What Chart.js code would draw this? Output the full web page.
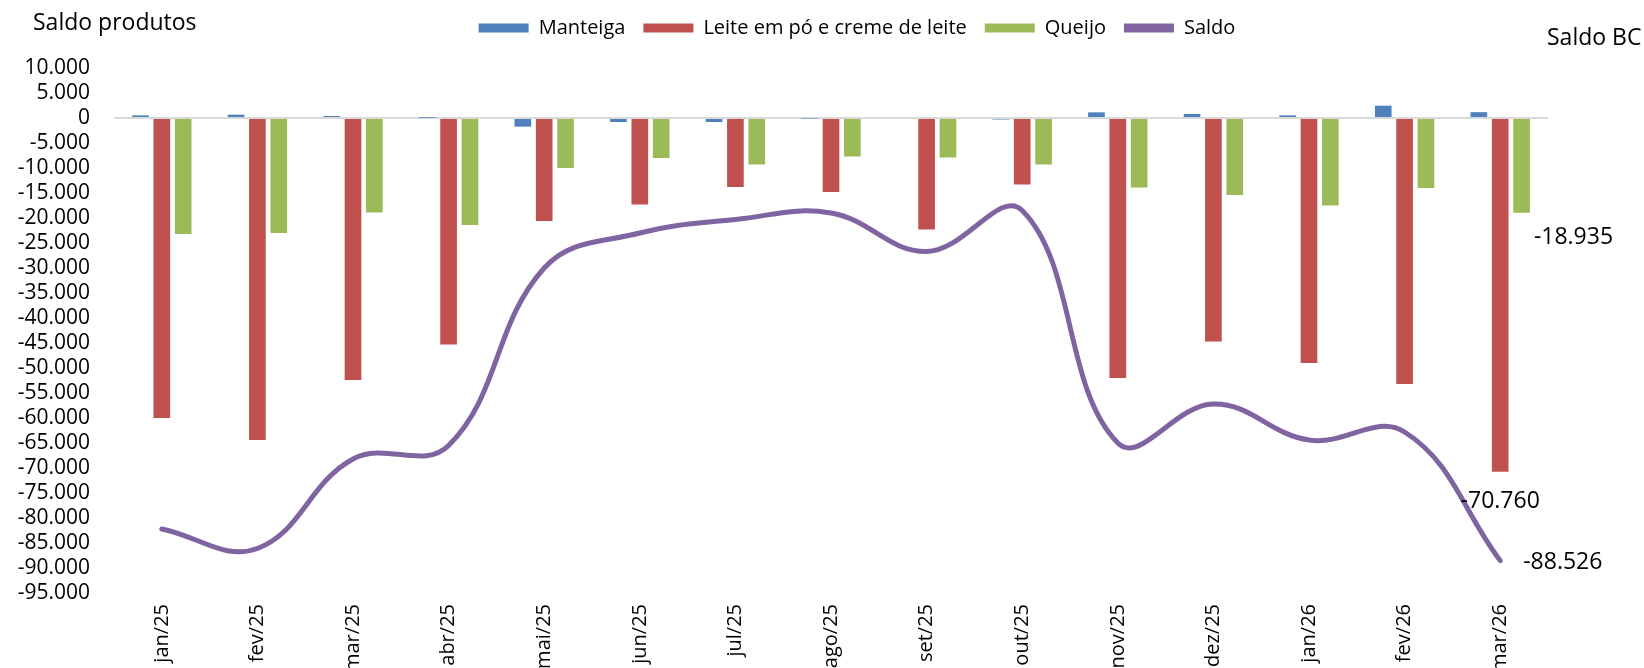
<!DOCTYPE html>
<html>
<head>
<meta charset="utf-8">
<script src="https://cdn.jsdelivr.net/npm/chart.js@4.4.1/dist/chart.umd.min.js"></script>
<style>
  html, body { margin: 0; padding: 0; background: #fff; }
  canvas { display: block; }
</style>
</head>
<body>
<canvas id="saldoChart" width="1644" height="668"></canvas>
<script>
// categorias (meses)
const meses = ['jan/25', 'fev/25', 'mar/25', 'abr/25', 'mai/25', 'jun/25', 'jul/25', 'ago/25',
               'set/25', 'out/25', 'nov/25', 'dez/25', 'jan/26', 'fev/26', 'mar/26'];

// series
const manteiga = [530, 670, 400, 50, -1730, -800, -800, -100, 0, -300, 1130, 800, 530, 2470, 1169];
const leite = [-60000, -64400, -52400, -45300, -20600, -17300, -13800, -14800, -22300, -13300,
               -52000, -44700, -49000, -53200, -70760];
const queijo = [-23200, -23000, -18900, -21400, -10000, -8000, -9300, -7700, -7900, -9300,
                -13900, -15400, -17500, -14000, -18935];
const saldo = [-82200, -86100, -68200, -65500, -30000, -23000, -20300, -19000, -26700, -18500,
               -65000, -57200, -64400, -62800, -88526];

// eixo
const yMin = -95000;
const yMax = 10000;
const yStep = 5000;

const FONT = '"Open Sans", "Noto Sans", sans-serif';

// 12345 -> 12.345
function fmt(v) {
  const s = Math.abs(v).toString().replace(/\B(?=(\d{3})+(?!\d))/g, '.');
  return (v < 0 ? '-' : '') + s;
}

// extra space below the legend, and nudge it a bit to the right
const legendGap = {
  id: 'legendGap',
  afterInit(chart) {
    if (!chart.legend) return;
    const fit = chart.legend.fit;
    chart.legend.fit = function() {
      fit.call(this);
      this.height += 20;
    };
  },
  afterLayout(chart) {
    if (!chart.legend) return;
    chart.legend.left += 35;
    chart.legend.right += 35;
  }
};

// axis titles and the last-month value labels
const extraText = {
  id: 'extraText',
  afterDatasetsDraw(chart) {
    const ctx = chart.ctx;
    const last = meses.length - 1;
    ctx.save();
    ctx.fillStyle = '#000';
    ctx.textBaseline = 'middle';
    ctx.font = '23px ' + FONT;

    ctx.textAlign = 'left';
    ctx.fillText('Saldo produtos', 33, 23);
    ctx.fillText('Saldo BC', 1547, 38);

    // Queijo
    const bq = chart.getDatasetMeta(2).data[last];
    ctx.textAlign = 'left';
    ctx.fillText(fmt(queijo[last]), bq.x + bq.width / 2 + 4, bq.y + 25);

    // Leite
    const bl = chart.getDatasetMeta(1).data[last];
    ctx.textAlign = 'center';
    ctx.fillText(fmt(leite[last]), bl.x, bl.y + 30);

    // Saldo
    const ps = chart.getDatasetMeta(3).data[last];
    ctx.textAlign = 'left';
    ctx.fillText(fmt(saldo[last]), ps.x + 23, ps.y + 2);
    ctx.restore();
  }
};

const ctx = document.getElementById('saldoChart').getContext('2d');
new Chart(ctx, {
  type: 'bar',
  data: {
    labels: meses,
    datasets: [
      { label: 'Manteiga', data: manteiga, backgroundColor: '#4F81BD', yAxisID: 'y' },
      { label: 'Leite em pó e creme de leite', data: leite, backgroundColor: '#C0504D', yAxisID: 'y' },
      { label: 'Queijo', data: queijo, backgroundColor: '#9BBB59', yAxisID: 'y' },
      {
        type: 'line',
        label: 'Saldo',
        data: saldo,
        borderColor: '#8064A2',
        backgroundColor: '#8064A2',
        borderWidth: 5,
        borderCapStyle: 'round',
        tension: 0.4,
        pointRadius: 0,
        fill: false,
        yAxisID: 'y2'
      }
    ]
  },
  options: {
    responsive: false,
    devicePixelRatio: 1,
    animation: false,
    categoryPercentage: 0.67,
    barPercentage: 0.78,
    layout: { padding: { left: 0, right: 0, top: 0, bottom: 0 } },
    plugins: {
      legend: {
        position: 'top',
        labels: {
          color: '#000',
          font: { family: FONT, size: 20 },
          boxWidth: 50,
          boxHeight: 9,
          padding: 18,
          generateLabels(chart) {
            const items = Chart.defaults.plugins.legend.labels.generateLabels(chart);
            items.forEach(it => { it.lineWidth = 0; });
            return items;
          }
        }
      },
      tooltip: { enabled: false }
    },
    scales: {
      x: {
        offset: true,
        grid: { display: false, drawTicks: false },
        border: { display: false },
        ticks: {
          color: '#000',
          font: { family: FONT, size: 20 },
          maxRotation: 90,
          minRotation: 90,
          autoSkip: false,
          padding: 11
        },
        afterFit(scale) { scale.height = 75; }
      },
      y: {
        min: yMin,
        max: yMax,
        ticks: {
          stepSize: yStep,
          autoSkip: false,
          color: '#000',
          font: { family: FONT, size: 21 },
          padding: 24,
          callback: v => fmt(v)
        },
        grid: {
          drawTicks: false,
          lineWidth: 2,
          color: c => (c.tick && c.tick.value === 0 ? '#D9D9D9' : 'rgba(0,0,0,0)')
        },
        border: { display: false },
        afterFit(scale) { scale.width = 114; }
      },
      y2: {
        position: 'right',
        min: yMin,
        max: yMax,
        ticks: { display: false },
        grid: { display: false, drawTicks: false },
        border: { display: false },
        afterFit(scale) { scale.width = 96; }
      }
    }
  },
  plugins: [legendGap, extraText]
});
</script>
</body>
</html>
